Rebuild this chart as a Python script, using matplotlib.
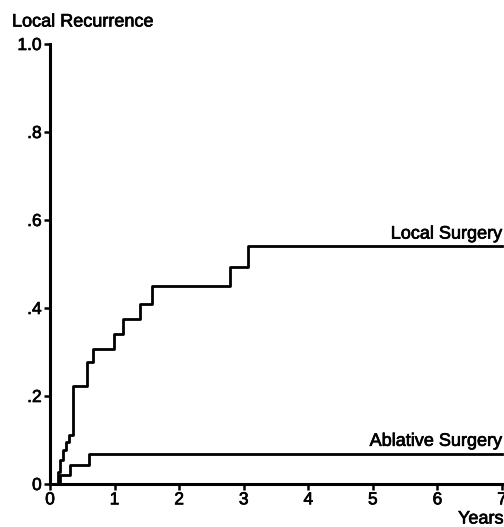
import numpy as np
import matplotlib.pyplot as plt
import matplotlib.patheffects as pe

plt.rcParams['font.family'] = ['Liberation Sans', 'DejaVu Sans']

# step curves (years, cumulative local recurrence)
local_years = [0, 0.12, 0.15, 0.20, 0.25, 0.30, 0.36, 0.58, 0.67, 0.99, 1.13, 1.39, 1.58, 2.79, 3.06, 7.0]
local_rate = [0, 0.028, 0.055, 0.077, 0.095, 0.111, 0.222, 0.278, 0.307, 0.340, 0.374, 0.409, 0.449, 0.494, 0.540, 0.540]

ablative_years = [0, 0.15, 0.31, 0.60, 7.0]
ablative_rate = [0, 0.021, 0.043, 0.068, 0.068]

yticks = [0, 0.2, 0.4, 0.6, 0.8, 1.0]
ytick_labels = ["0", ".2", ".4", ".6", ".8", "1.0"]
xticks = [0, 1, 2, 3, 4, 5, 6, 7]

# scanned print looks a bit heavy, thicken the glyphs slightly
heavy = [pe.withStroke(linewidth=0.5, foreground='black')]

fig = plt.figure(figsize=(5.04, 5.27), dpi=100)
ax = fig.add_axes([50 / 504, 1 - 484 / 527, 452 / 504, 440 / 527])

ax.step(local_years, local_rate, where='post', color='black', lw=2.0, clip_on=False)
ax.step(ablative_years, ablative_rate, where='post', color='black', lw=2.0, clip_on=False)

ax.set_xlim(0, 7)
ax.set_ylim(0, 1)
ax.set_xticks(xticks)
ax.set_yticks(yticks)
ax.set_yticklabels(ytick_labels)
ax.tick_params(direction='out', length=4, width=1.8, labelsize=12.5, pad=2)
for lab in ax.get_xticklabels() + ax.get_yticklabels():
    lab.set_path_effects(heavy)

for side in ['top', 'right']:
    ax.spines[side].set_visible(False)
for side in ['left', 'bottom']:
    ax.spines[side].set_linewidth(2.2)

ax.text(7.0, 0.568, "Local Surgery", ha='right', va='center', fontsize=13, path_effects=heavy)
ax.text(7.0, 0.097, "Ablative Surgery", ha='right', va='center', fontsize=13, path_effects=heavy)

fig.text(12 / 504, 1 - 22 / 527, "Local Recurrence", ha='left', va='center', fontsize=13, path_effects=heavy)
fig.text(458 / 504, 1 - 519 / 527, "Years", ha='left', va='center', fontsize=13, path_effects=heavy)

plt.savefig("out.png", dpi=100)
